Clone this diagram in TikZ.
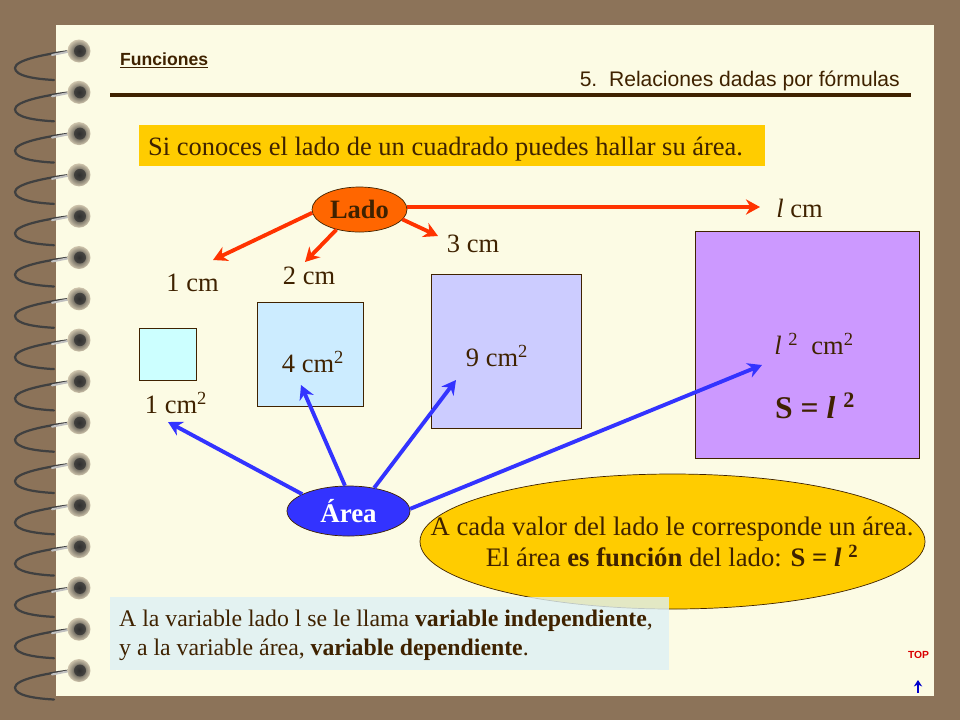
\documentclass[tikz,border=0pt]{standalone}
\usepackage{fontspec}
\setmainfont{Liberation Serif}
\newfontfamily\arialfont{Liberation Sans}
\definecolor{kTan}{HTML}{8C7359}
\definecolor{kPage}{HTML}{FCFBE4}
\definecolor{kInk}{HTML}{3F2200}
\definecolor{kGold}{HTML}{FFCC00}
\definecolor{kOrange}{HTML}{FF6600}
\definecolor{kRed}{HTML}{FF3300}
\definecolor{kBlue}{HTML}{3333FF}
\definecolor{kCyan}{HTML}{CCFFFF}
\definecolor{kSky}{HTML}{CCECFF}
\definecolor{kLilac}{HTML}{CCCCFF}
\definecolor{kViolet}{HTML}{CC99FF}
\definecolor{kPale}{HTML}{DDF0F5}
\tikzset{
  label20/.style={text=kInk,font=\fontsize{22.6}{26}\selectfont,inner sep=0pt},
  squarebox/.style={draw=kInk,line width=0.7pt,inner sep=0pt,anchor=north west},
  bubble/.style={draw=kInk,ellipse,line width=0.6pt,inner sep=0pt},
  redarrow/.style={draw=kRed,line width=3.3pt,-{Stealth[length=12pt,width=13pt]}},
  bluearrow/.style={draw=kBlue,line width=3.3pt,-{Stealth[length=12pt,width=13pt]}}
}
\usetikzlibrary{shapes.geometric,arrows.meta}
\begin{document}
\begin{tikzpicture}[x=0.03cm,y=-0.03cm,text=kInk]
  \fill[kTan] (0,0) rectangle (960,720);
  \fill[kPage] (56,25) rectangle (934,696);

  \foreach \n in {0,...,15}
  {
    \pgfmathsetmacro{\y}{51+41.3*\n}
    \draw[color=black!75,line width=1.9pt,line cap=round] (70,\y) .. controls (45,\y+3) and (15,\y+9) .. (15,\y+17) .. controls (15,\y+25) and (35,\y+28) .. (54,\y+29);
    \draw[color=white!75!black,line width=1.7pt,line cap=round] (72,\y) -- (52,\y+4);
    \shade[inner color=black!85,outer color=kTan!40!kPage] (79,\y) circle (11.5);
    \fill[black!80,opacity=0.75] (80,\y) circle (6);
  }

  \node[anchor=west,inner sep=0pt,font=\arialfont\bfseries\fontsize{15}{18}\selectfont] (funciones) at (120,60) {\underline{Funciones}};
  \node[anchor=east,inner sep=0pt,font=\arialfont\fontsize{18}{21}\selectfont] (relaciones) at (900,81) {5.\ \ Relaciones dadas por fórmulas};
  \coordinate (ruleleft) at (110,95);
  \coordinate (ruleright) at (911,95);
  \draw[color=kInk,line width=3.2pt] (ruleleft) -- (ruleright);

  \fill[kGold] (139,125) rectangle (765,166);
  \node[label20,anchor=west] (intro) at (148,149) {Si conoces el lado de un cuadrado puedes hallar su área.};

  \node[squarebox,fill=kCyan,minimum width=57*0.03cm,minimum height=52*0.03cm] (sq1) at (139,328) {};
  \node[squarebox,fill=kSky,minimum width=106*0.03cm,minimum height=104*0.03cm] (sq2) at (257,302) {};
  \node[squarebox,fill=kLilac,minimum width=150*0.03cm,minimum height=154*0.03cm] (sq3) at (431,274) {};
  \node[squarebox,fill=kViolet,minimum width=224*0.03cm,minimum height=227*0.03cm] (sq4) at (695,231) {};

  \node[bubble,fill=kOrange,minimum width=95*0.03cm,minimum height=45*0.03cm,font=\bfseries\fontsize{22.6}{26}\selectfont] (lado) at (359.5,209.5) {Lado};
  \node[bubble,fill=kBlue,minimum width=123*0.03cm,minimum height=50*0.03cm,text=white,font=\bfseries\fontsize{23}{26}\selectfont] (area) at (348.5,511) {Área};
  \node[bubble,fill=kGold,minimum width=505*0.03cm,minimum height=135*0.03cm] (note) at (672.5,541.5) {};

  \node[label20] (side1) at (192.5,283) {1 cm};
  \node[label20] (side2) at (309,276) {2 cm};
  \node[label20] (side3) at (473,244) {3 cm};
  \node[label20] (sidel) at (799.5,208) {\textit{l} cm};
  \node[label20] (area1) at (176,403) {1 cm\textsuperscript{2}};
  \node[label20] (area2) at (313,362) {4 cm\textsuperscript{2}};
  \node[label20] (area3) at (497,356) {9 cm\textsuperscript{2}};
  \node[label20] (areal) at (814,344) {\textit{l} \textsuperscript{2}\ \ cm\textsuperscript{2}};
  \node[text=kInk,inner sep=0pt,font=\bfseries\fontsize{27}{31}\selectfont] (formula) at (815,406) {S = \textit{l} \textsuperscript{2}};

  \coordinate (tip1) at (213,260);
  \coordinate (tip2) at (305,262);
  \coordinate (tip3) at (438,236);
  \coordinate (tipl) at (760,207);
  \coordinate (tipa) at (168,422);
  \coordinate (tipb) at (301,385);
  \coordinate (tipc) at (456,380);
  \coordinate (tipd) at (762,365);

  \draw[redarrow] (lado.184) -- (tip1);
  \draw[redarrow] (lado.221) -- (tip2);
  \draw[redarrow] (lado.347) -- (tip3);
  \draw[redarrow] (lado.3) -- (tipl);
  \draw[bluearrow] (area.160) -- (tipa);
  \draw[bluearrow] (area.98) -- (tipb);
  \draw[bluearrow] (area.42) -- (tipc);
  \draw[bluearrow] (area.2) -- (tipd);

  \node[label20,align=center,font=\fontsize{22.8}{26.5}\selectfont] (notetext) at (672,542) {A cada valor del lado le corresponde un área.\\El área \textbf{es función} del lado: \textbf{S = \textit{l} \textsuperscript{2}}};

  \fill[kPale,fill opacity=0.8] (110,597) rectangle (669,670);
  \node[label20,anchor=west,align=left,font=\fontsize{20.3}{25}\selectfont] (variables) at (119,635) {A la variable lado l se le llama \textbf{variable independiente},\\y a la variable área, \textbf{variable dependiente}.};

  \node[text=red!85!black,font=\arialfont\bfseries\fontsize{8.8}{10}\selectfont,inner sep=0pt] (top) at (918.5,655) {TOP};
  \coordinate (uparrowa) at (918,693);
  \coordinate (uparrowb) at (918,680);
  \draw[color=blue!80!black,line width=2pt,-{Stealth[length=5.5pt,width=7pt]}] (uparrowa) -- (uparrowb);
\end{tikzpicture}
\end{document}
